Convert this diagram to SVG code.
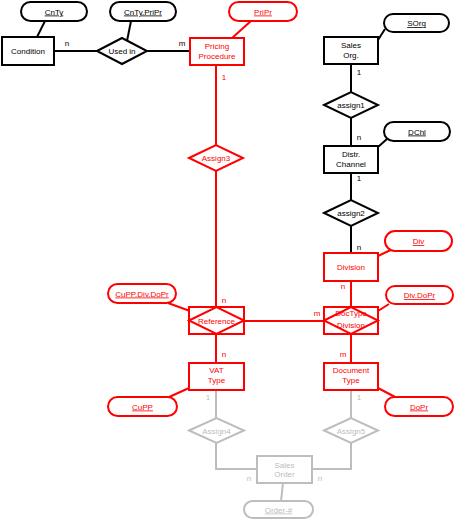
<svg xmlns="http://www.w3.org/2000/svg" width="454" height="521" viewBox="0 0 454 521">
<style>
text{font-family:"Liberation Sans",Arial,sans-serif;font-size:8px;text-anchor:middle}
.k{stroke:#000}.r{stroke:#f00}.g{stroke:#bdbdbd}
.s{fill:#fff;stroke-width:2}
.tk{fill:#000}.tr{fill:#f00}.tg{fill:#bdbdbd}
.u{text-decoration:underline}
.lbl{font-size:8px}
#connectors line,#connectors polyline{stroke-width:2;fill:none}
</style>
<rect width="454" height="521" fill="#fff"/>
<g id="connectors">
<line class="k" x1="45" y1="21" x2="37" y2="37"/>
<line class="k" x1="54" y1="51" x2="97" y2="51"/>
<line class="k" x1="131" y1="21" x2="127" y2="41"/>
<line class="k" x1="147" y1="51" x2="190" y2="51"/>
<line class="r" x1="251" y1="21" x2="232" y2="38"/>
<line class="r" x1="216" y1="65" x2="216" y2="307"/>
<line class="k" x1="385" y1="29" x2="378" y2="40"/>
<line class="k" x1="351" y1="64" x2="351" y2="92"/>
<line class="k" x1="351" y1="118" x2="351" y2="146"/>
<line class="k" x1="387" y1="139" x2="378" y2="147"/>
<line class="k" x1="351" y1="173" x2="351" y2="200"/>
<line class="k" x1="351" y1="226" x2="351" y2="253"/>
<line class="r" x1="395" y1="248" x2="378" y2="256"/>
<line class="r" x1="351" y1="281" x2="351" y2="307"/>
<line class="r" x1="389" y1="304" x2="378" y2="311"/>
<line class="r" x1="168" y1="303" x2="190" y2="311"/>
<line class="r" x1="244" y1="321" x2="324" y2="321"/>
<line class="r" x1="216" y1="334" x2="216" y2="363"/>
<line class="r" x1="351" y1="334" x2="351" y2="363"/>
<line class="r" x1="167" y1="398" x2="189" y2="388"/>
<line class="r" x1="397" y1="398" x2="378" y2="388"/>
<line class="g" x1="216" y1="390" x2="216" y2="418"/>
<line class="g" x1="351" y1="390" x2="351" y2="418"/>
<polyline class="g" points="216,443 216,469 257,469"/>
<polyline class="g" points="351,443 351,469 312,469"/>
<line class="g" x1="283" y1="483" x2="281" y2="501"/>
</g>
<g id="cnty"><rect class="s k" x="21" y="2" width="66" height="19" rx="9.5"/><text class="tk u" x="54" y="14.5">CnTy</text></g>
<g id="cnty-pripr"><rect class="s k" x="110" y="2" width="66" height="19" rx="9.5"/><text class="tk u" x="143" y="14.5">CnTy.PriPr</text></g>
<g id="condition"><rect class="s k" x="2" y="37" width="52" height="28"/><text class="tk" x="28" y="54">Condition</text></g>
<g id="used-in"><polygon class="s k" points="97,51 122,38 147,51 122,64"/><text class="tk" x="122" y="54">Used in</text></g>
<g id="pricing-procedure"><rect class="s r" x="190" y="38" width="54" height="27"/><text class="tr" x="217" y="49">Pricing</text><text class="tr" x="217" y="59">Procedure</text></g>
<g id="pripr"><rect class="s r" x="229" y="2" width="68" height="19" rx="9.5"/><text class="tr u" x="263" y="14.5">PriPr</text></g>
<g id="sorg"><rect class="s k" x="384" y="14" width="65" height="18" rx="9"/><text class="tk u" x="416.5" y="26">SOrg</text></g>
<g id="sales-org"><rect class="s k" x="324" y="37" width="54" height="27"/><text class="tk" x="351" y="48">Sales</text><text class="tk" x="351" y="58">Org.</text></g>
<g id="assign1"><polygon class="s k" points="324,105 351,92 378,105 351,118"/><text class="tk" x="351" y="108">assign1</text></g>
<g id="dchl"><rect class="s k" x="384" y="122" width="66" height="19" rx="9.5"/><text class="tk u" x="417" y="134.5">DChl</text></g>
<g id="distr-channel"><rect class="s k" x="324" y="146" width="54" height="27"/><text class="tk" x="351" y="157">Distr.</text><text class="tk" x="351" y="167">Channel</text></g>
<g id="assign2"><polygon class="s k" points="324,213 351,200 378,213 351,226"/><text class="tk" x="351" y="216">assign2</text></g>
<g id="div"><rect class="s r" x="385" y="231" width="67" height="20" rx="10"/><text class="tr u" x="418.5" y="244">Div</text></g>
<g id="division"><rect class="s r" x="324" y="253" width="54" height="28"/><text class="tr" x="351" y="270">Division</text></g>
<g id="assign3"><polygon class="s r" points="189,158 216,145 243,158 216,171"/><text class="tr" x="216" y="161">Assign3</text></g>
<g id="cupp-div-dopr"><rect class="s r" x="108" y="284" width="68" height="19" rx="9.5"/><text class="tr u" x="142" y="296.5">CuPP.Div.DoPr</text></g>
<g id="div-dopr"><rect class="s r" x="386" y="286" width="67" height="18" rx="9"/><text class="tr u" x="419.5" y="298">Div.DoPr</text></g>
<g id="reference"><rect class="s r" x="189" y="307" width="55" height="27"/><polygon class="s r" points="189,320.5 216.5,307 244,320.5 216.5,334"/><text class="tr" x="216.5" y="324">Reference</text></g>
<g id="doctype-division"><rect class="s r" x="324" y="307" width="54" height="27"/><polygon class="s r" points="324,320.5 351,307 378,320.5 351,334"/><text class="tr" x="351" y="316">DocType</text><text class="tr" x="351" y="328">Division</text></g>
<g id="vat-type"><rect class="s r" x="189" y="363" width="55" height="27"/><text class="tr" x="216.5" y="373">VAT</text><text class="tr" x="216.5" y="383">Type</text></g>
<g id="document-type"><rect class="s r" x="324" y="363" width="54" height="27"/><text class="tr" x="351" y="373">Document</text><text class="tr" x="351" y="383">Type</text></g>
<g id="cupp"><rect class="s r" x="108" y="397" width="69" height="19" rx="9.5"/><text class="tr u" x="142.5" y="409.5">CuPP</text></g>
<g id="dopr"><rect class="s r" x="385" y="397" width="68" height="19" rx="9.5"/><text class="tr u" x="419" y="409.5">DoPr</text></g>
<g id="assign4"><polygon class="s g" points="189,430.5 216.5,418 244,430.5 216.5,443"/><text class="tg" x="216.5" y="433.5">Assign4</text></g>
<g id="assign5"><polygon class="s g" points="324,430.5 351,418 378,430.5 351,443"/><text class="tg" x="351" y="433.5">Assign5</text></g>
<g id="sales-order"><rect class="s g" x="257" y="456" width="55" height="27"/><text class="tg" x="284.5" y="468">Sales</text><text class="tg" x="284.5" y="477">Order</text></g>
<g id="order-no"><rect class="s g" x="244" y="501" width="69" height="17" rx="8.5"/><text class="tg u" x="278.5" y="512.5">Order-#</text></g>
<g id="cardinalities">
<text class="tk lbl" x="67" y="46">n</text>
<text class="tk lbl" x="182" y="46">m</text>
<text class="tr lbl" x="224" y="80">1</text>
<text class="tk lbl" x="359" y="75">1</text>
<text class="tk lbl" x="359" y="140">n</text>
<text class="tk lbl" x="359" y="181">1</text>
<text class="tk lbl" x="359" y="250">n</text>
<text class="tr lbl" x="343" y="289">n</text>
<text class="tr lbl" x="224" y="303">n</text>
<text class="tr lbl" x="317" y="316">m</text>
<text class="tr lbl" x="224" y="357">n</text>
<text class="tr lbl" x="343" y="357">m</text>
<text class="tg lbl" x="208" y="400">1</text>
<text class="tg lbl" x="359" y="400">1</text>
<text class="tg lbl" x="249" y="481">n</text>
<text class="tg lbl" x="320" y="481">n</text>
</g>
</svg>
